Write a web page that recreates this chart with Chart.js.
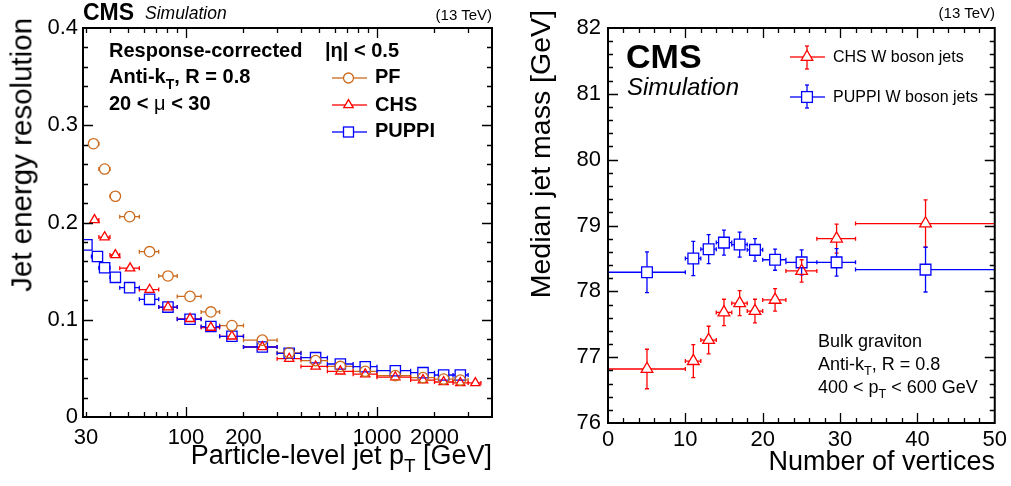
<!DOCTYPE html>
<html>
<head>
<meta charset="utf-8">
<script src="https://cdn.jsdelivr.net/npm/chart.js@4.4.0/dist/chart.umd.min.js"></script>
<style>
  body { margin: 0; background: #fff; width: 1011px; height: 486px; position: relative; overflow: hidden;
         font-family: "Liberation Sans", Arial, sans-serif; color: #000; }
  #leftBox  { position: absolute; left: 0;     top: 0; width: 505px; height: 486px; }
  #rightBox { position: absolute; left: 505px; top: 0; width: 506px; height: 486px; }
  .t { position: absolute; white-space: nowrap; line-height: 1; }
  .b { font-weight: bold; }
  .i { font-style: italic; }
  .vt { writing-mode: vertical-rl; transform: rotate(180deg); }
  .sub { font-size: 0.7em; position: relative; top: 0.4em; }
  #marks { position: absolute; left: 0; top: 0; }
</style>
</head>
<body>
<div id="leftBox"><canvas id="resChart" width="505" height="486"></canvas></div>
<div id="rightBox"><canvas id="massChart" width="506" height="486"></canvas></div>

<!-- left panel texts -->
<div class="t b" style="left:83px;top:0.5px;font-size:23px">CMS</div>
<div class="t i" style="left:145px;top:5.2px;font-size:17.5px">Simulation</div>
<div class="t" style="right:519px;top:7.3px;font-size:15px">(13 TeV)</div>
<div class="t b" style="left:109px;top:40px;font-size:20px">Response-corrected</div>
<div class="t b" style="left:109px;top:66px;font-size:20px">Anti-k<span class="sub">T</span>, R = 0.8</div>
<div class="t b" style="left:109px;top:93px;font-size:20px">20 &lt; <span style="font-weight:normal">μ</span> &lt; 30</div>
<div class="t b" style="left:325px;top:40px;font-size:20px">|η| &lt; 0.5</div>
<div class="t b" style="left:375px;top:66px;font-size:20px">PF</div>
<div class="t b" style="left:375px;top:94px;font-size:20px">CHS</div>
<div class="t b" style="left:375px;top:120px;font-size:20px">PUPPI</div>
<div class="t" style="right:519px;top:442px;font-size:27px">Particle-level jet p<span class="sub">T</span> [GeV]</div>
<div class="t vt" style="left:7px;top:18px;font-size:29.5px">Jet energy resolution</div>

<!-- right panel texts -->
<div class="t" style="right:16px;top:5.3px;font-size:15px">(13 TeV)</div>
<div class="t b" style="left:626px;top:39px;font-size:34px">CMS</div>
<div class="t i" style="left:627px;top:74.7px;font-size:24px">Simulation</div>
<div class="t" style="left:833px;top:48.5px;font-size:16px">CHS W boson jets</div>
<div class="t" style="left:833px;top:88.5px;font-size:16px">PUPPI W boson jets</div>
<div class="t" style="left:818px;top:331.8px;font-size:18px">Bulk graviton</div>
<div class="t" style="left:818px;top:354.8px;font-size:18px">Anti-k<span class="sub">T</span>, R = 0.8</div>
<div class="t" style="left:818px;top:377.8px;font-size:18px">400 &lt; p<span class="sub">T</span> &lt; 600 GeV</div>
<div class="t" style="right:16px;top:448px;font-size:27px">Number of vertices</div>
<div class="t vt" style="left:526px;top:10px;font-size:28.5px">Median jet mass [GeV]</div>

<!-- legend symbols -->
<svg id="marks" width="1011" height="486" fill="none" stroke-width="1.3">
  <g stroke="#cc6a1c">
    <line x1="332" y1="78" x2="343.5" y2="78"/><line x1="353.5" y1="78" x2="367" y2="78"/>
    <circle cx="348.5" cy="78" r="5"/>
  </g>
  <g stroke="#ff0000">
    <line x1="332" y1="105" x2="345.5" y2="105"/><line x1="351.5" y1="105" x2="367" y2="105"/>
    <polygon points="348.5,99.6 343.8,107.7 353.2,107.7"/>
  </g>
  <g stroke="#0000ff">
    <line x1="332" y1="132" x2="343.5" y2="132"/><line x1="353.5" y1="132" x2="367" y2="132"/>
    <rect x="343.5" y="127" width="10" height="10"/>
  </g>
  <g stroke="#ff0000">
    <line x1="790" y1="57" x2="803" y2="57"/><line x1="811" y1="57" x2="825" y2="57"/>
    <line x1="807" y1="46" x2="807" y2="50.2"/><line x1="807" y1="60.4" x2="807" y2="69"/>
    <line x1="805" y1="46" x2="809" y2="46"/><line x1="805" y1="69" x2="809" y2="69"/>
    <polygon points="807,50.2 801.2,60.4 812.8,60.4"/>
  </g>
  <g stroke="#0000ff">
    <line x1="790" y1="97" x2="801.6" y2="97"/><line x1="812.4" y1="97" x2="825" y2="97"/>
    <line x1="807" y1="85" x2="807" y2="91.6"/><line x1="807" y1="102.4" x2="807" y2="108"/>
    <line x1="805" y1="85" x2="809" y2="85"/><line x1="805" y1="108" x2="809" y2="108"/>
    <rect x="801.6" y="91.6" width="10.8" height="10.8"/>
  </g>
</svg>

<script>
// ---- left panel: jet energy resolution vs particle-level jet pT ----
const ptEdges  = [28, 32, 35, 40, 45, 57, 72, 90, 120, 150, 200, 300, 400, 550, 750, 1000, 1500, 2000, 2500, 3000, 3500];

const pfPt     = [32.8, 37.5, 42.7, 50.7, 64.5, 80.5, 105, 135, 174, 251, 347, 477, 643, 868, 1247, 1741, 2233, 2730];
const pfRes    = [0.281, 0.255, 0.227, 0.206, 0.170, 0.145, 0.124, 0.108, 0.094, 0.079, 0.066, 0.058, 0.052, 0.047, 0.0425, 0.0405, 0.039, 0.038];

const chsPt    = [33.2, 37.5, 42.7, 51, 64.5, 80.5, 105, 135, 174, 251, 347, 477, 643, 868, 1247, 1741, 2233, 2730, 3273];
const chsRes   = [0.2026, 0.185, 0.1666, 0.153, 0.131, 0.113, 0.101, 0.092, 0.083, 0.072, 0.060, 0.052, 0.047, 0.044, 0.041, 0.038, 0.036, 0.035, 0.035];

const puppiPt  = [30.3, 34.4, 37.5, 42.7, 50.7, 64.5, 80.5, 105, 135, 174, 251, 347, 477, 643, 868, 1247, 1741, 2233, 2730];
const puppiRes = [0.177, 0.165, 0.1535, 0.1436, 0.133, 0.121, 0.113, 0.1005, 0.093, 0.083, 0.072, 0.0655, 0.061, 0.0545, 0.0517, 0.0476, 0.0456, 0.0432, 0.0432];

const ptTicks      = [30, 40, 50, 60, 70, 80, 90, 100, 200, 300, 400, 500, 600, 700, 800, 900, 1000, 2000, 3000, 4000];
const ptTickLabels = [30, 100, 200, 1000, 2000];
const ptLongTicks  = [100, 1000];
const resTicks     = [0, 0.1, 0.2, 0.3, 0.4];

// ---- right panel: median jet mass vs number of vertices ----
const nvEdges   = [0, 10, 12, 14, 16, 18, 20, 23, 27, 32, 50];
const nVtx      = [5.04, 11.03, 13.01, 14.99, 17.02, 19.0, 21.6, 25.03, 29.55, 41.05];
const chsMass   = [76.82, 76.94, 77.26, 77.68, 77.82, 77.70, 77.87, 78.31, 78.80, 79.03];
const chsErr    = [0.30, 0.25, 0.21, 0.20, 0.19, 0.18, 0.17, 0.17, 0.22, 0.36];
const puppiMass = [78.29, 78.50, 78.64, 78.74, 78.71, 78.63, 78.48, 78.44, 78.44, 78.33];
const puppiErr  = [0.31, 0.26, 0.22, 0.19, 0.19, 0.17, 0.16, 0.19, 0.21, 0.34];

const nvTicks   = [0, 10, 20, 30, 40, 50];
const massTicks = [76, 77, 78, 79, 80, 81, 82];

const ORANGE = '#cc6a1c', RED = '#ff0000', BLUE = '#0000ff';

Chart.defaults.font.family = '"Liberation Sans", Arial, sans-serif';
Chart.defaults.color = '#000';

const r6 = v => Math.round(v * 1e6) / 1e6;

function withMinor(majors, n) {
  const out = [];
  for (let i = 0; i < majors.length - 1; i++) {
    for (let k = 0; k < n; k++) out.push(r6(majors[i] + k * (majors[i + 1] - majors[i]) / n));
  }
  out.push(majors[majors.length - 1]);
  return out;
}

function makePoints(xs, ys, edges, errs) {
  return xs.map((x, i) => {
    let k = 0;
    while (k < edges.length - 2 && x >= edges[k + 1]) k++;
    const e = errs ? errs[i] : 0;
    return { x, y: ys[i], xlo: edges[k], xhi: edges[k + 1], ylo: ys[i] - e, yhi: ys[i] + e };
  });
}

// ROOT-like look: error bars with gaps round the open markers, inward ticks on all four sides, thick frame
function rootStyle(xMajor, yMajor) {
  return {
    id: 'rootStyle',
    beforeDatasetsDraw(chart) {
      const { ctx, chartArea: a, scales: { x, y } } = chart;
      ctx.save();
      ctx.beginPath();
      ctx.rect(a.left, a.top, a.right - a.left, a.bottom - a.top);
      ctx.clip();
      ctx.lineWidth = 1.3;
      chart.data.datasets.forEach(ds => {
        const g = ds.gap;
        ctx.strokeStyle = ds.borderColor;
        ctx.beginPath();
        ds.data.forEach(p => {
          const px = x.getPixelForValue(p.x), py = y.getPixelForValue(p.y);
          const x0 = x.getPixelForValue(p.xlo), x1 = x.getPixelForValue(p.xhi);
          const y0 = y.getPixelForValue(p.ylo), y1 = y.getPixelForValue(p.yhi);
          if (x0 < px - g.side) {
            ctx.moveTo(x0, py); ctx.lineTo(px - g.side, py);
            ctx.moveTo(x0, py - 2); ctx.lineTo(x0, py + 2);
          }
          if (x1 > px + g.side) {
            ctx.moveTo(px + g.side, py); ctx.lineTo(x1, py);
            ctx.moveTo(x1, py - 2); ctx.lineTo(x1, py + 2);
          }
          if (y1 < py - g.up) {
            ctx.moveTo(px, py - g.up); ctx.lineTo(px, y1);
            ctx.moveTo(px - 2, y1); ctx.lineTo(px + 2, y1);
          }
          if (y0 > py + g.down) {
            ctx.moveTo(px, py + g.down); ctx.lineTo(px, y0);
            ctx.moveTo(px - 2, y0); ctx.lineTo(px + 2, y0);
          }
        });
        ctx.stroke();
      });
      ctx.restore();
    },
    afterDraw(chart) {
      const { ctx, chartArea: a, scales: { x, y } } = chart;
      ctx.save();
      ctx.strokeStyle = '#000';
      ctx.lineWidth = 1.3;
      ctx.beginPath();
      x.ticks.forEach(t => {
        const px = Math.round(x.getPixelForValue(t.value)) + 0.5;
        if (px < a.left + 2 || px > a.right - 2) return;
        const L = xMajor(t.value) ? 10 : 5;
        ctx.moveTo(px, a.bottom); ctx.lineTo(px, a.bottom - L);
        ctx.moveTo(px, a.top); ctx.lineTo(px, a.top + L);
      });
      y.ticks.forEach(t => {
        const py = Math.round(y.getPixelForValue(t.value)) + 0.5;
        if (py < a.top + 2 || py > a.bottom - 2) return;
        const L = yMajor(t.value) ? 10 : 5;
        ctx.moveTo(a.left, py); ctx.lineTo(a.left + L, py);
        ctx.moveTo(a.right, py); ctx.lineTo(a.right - L, py);
      });
      ctx.stroke();
      ctx.lineWidth = 2;
      ctx.strokeRect(a.left, a.top, a.right - a.left, a.bottom - a.top);
      ctx.restore();
    }
  };
}

function series(points, color, style, radius, gap) {
  return {
    data: points, gap,
    showLine: false,
    pointStyle: style, pointRadius: radius,
    borderColor: color, backgroundColor: 'rgba(0,0,0,0)', pointBorderWidth: 1.3,
  };
}

// ---------- left chart ----------
const resMinor = withMinor(resTicks, 5);
const isResMajor = v => resTicks.some(m => Math.abs(m - v) < 1e-6);

new Chart(document.getElementById('resChart'), {
  type: 'scatter',
  data: {
    datasets: [
      series(makePoints(pfPt, pfRes, ptEdges), ORANGE, 'circle', 5.2, { side: 5.2, up: 5.2, down: 5.2 }),
      series(makePoints(chsPt, chsRes, ptEdges), RED, 'triangle', 5.4, { side: 3.2, up: 5.4, down: 2.7 }),
      series(makePoints(puppiPt, puppiRes, ptEdges), BLUE, 'rect', 7.3, { side: 5.2, up: 5.2, down: 5.2 }),
    ]
  },
  options: {
    responsive: false,
    animation: false,
    events: [],
    layout: { padding: { top: 28, right: 13, left: 0, bottom: 0 } },
    plugins: { legend: { display: false }, tooltip: { enabled: false } },
    scales: {
      x: {
        type: 'logarithmic', min: 28.9, max: 4000,
        afterBuildTicks: s => { s.ticks = ptTicks.map(v => ({ value: v })); },
        afterFit: s => { s.height = 69; },
        grid: { display: false, drawTicks: false },
        border: { display: false },
        ticks: {
          autoSkip: false, maxRotation: 0, minRotation: 0, padding: 8,
          font: { size: 22 },
          callback: v => ptTickLabels.includes(v) ? String(v) : '',
        },
      },
      y: {
        min: 0, max: 0.4,
        afterBuildTicks: s => { s.ticks = resMinor.map(v => ({ value: v })); },
        afterFit: s => { s.width = 83; },
        grid: { display: false, drawTicks: false },
        border: { display: false },
        ticks: {
          autoSkip: false, padding: 5,
          font: { size: 22 },
          callback: v => isResMajor(v) ? String(r6(v)) : '',
        },
      },
    },
  },
  plugins: [rootStyle(v => ptLongTicks.includes(v), isResMajor)],
});

// ---------- right chart ----------
const nvMinor = withMinor(nvTicks, 5);
const massMinor = withMinor(massTicks, 5);
const isNvMajor = v => nvTicks.includes(r6(v));
const isMassMajor = v => massTicks.some(m => Math.abs(m - v) < 1e-6);

new Chart(document.getElementById('massChart'), {
  type: 'scatter',
  data: {
    datasets: [
      series(makePoints(nVtx, chsMass, nvEdges, chsErr), RED, 'triangle', 6.75, { side: 3.9, up: 6.75, down: 3.4 }),
      series(makePoints(nVtx, puppiMass, nvEdges, puppiErr), BLUE, 'rect', 7.6, { side: 5.4, up: 5.4, down: 5.4 }),
    ]
  },
  options: {
    responsive: false,
    animation: false,
    events: [],
    layout: { padding: { top: 28, right: 11, left: 0, bottom: 0 } },
    plugins: { legend: { display: false }, tooltip: { enabled: false } },
    scales: {
      x: {
        type: 'linear', min: 0, max: 50,
        afterBuildTicks: s => { s.ticks = nvMinor.map(v => ({ value: v })); },
        afterFit: s => { s.height = 63; },
        grid: { display: false, drawTicks: false },
        border: { display: false },
        ticks: {
          autoSkip: false, maxRotation: 0, minRotation: 0, padding: 4,
          font: { size: 22 },
          callback: v => isNvMajor(v) ? String(r6(v)) : '',
        },
      },
      y: {
        min: 76, max: 82,
        afterBuildTicks: s => { s.ticks = massMinor.map(v => ({ value: v })); },
        afterFit: s => { s.width = 103; },
        grid: { display: false, drawTicks: false },
        border: { display: false },
        ticks: {
          autoSkip: false, padding: 7,
          font: { size: 22 },
          callback: v => isMassMajor(v) ? String(Math.round(v)) : '',
        },
      },
    },
  },
  plugins: [rootStyle(isNvMajor, isMassMajor)],
});
</script>
</body>
</html>
